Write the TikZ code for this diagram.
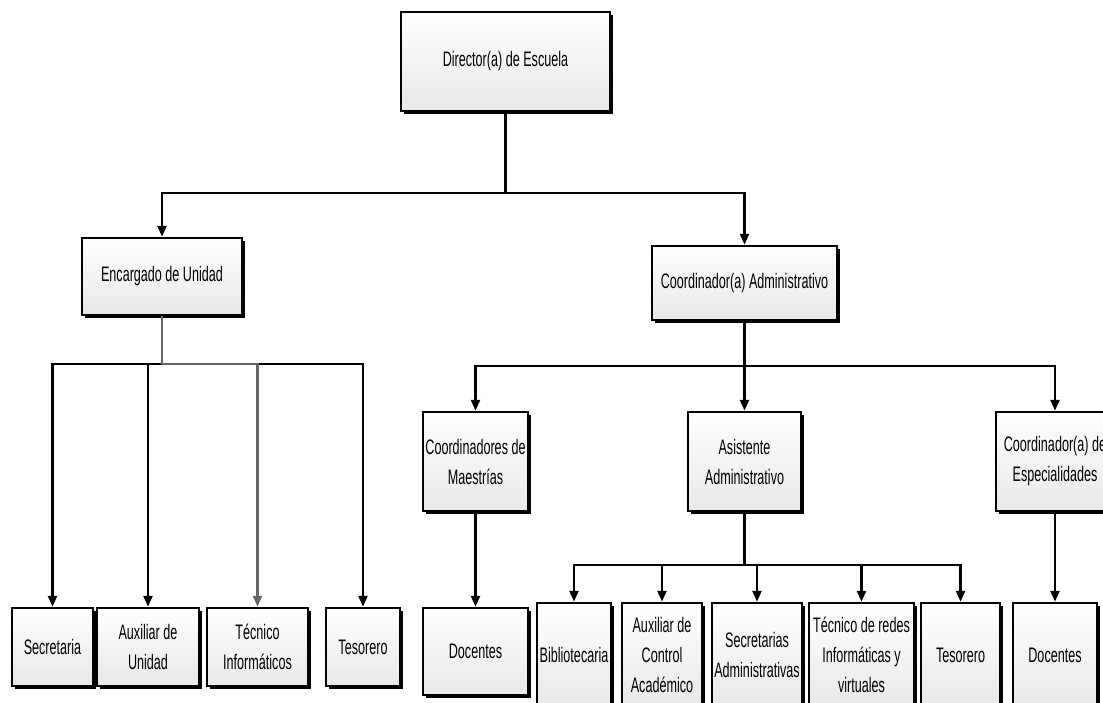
\documentclass[tikz,border=0pt]{standalone}
\usepackage{fontspec}
\setmainfont{Liberation Sans}[FakeStretch=0.6]
\usepackage{tikz}
\usetikzlibrary{arrows.meta,shadows}

\begin{document}
\begin{tikzpicture}[x=1pt,y=-1pt,
    box/.style={draw=black,line width=2.5pt,top color=white,bottom color=black!9,
      align=center,inner sep=1pt,font=\fontsize{21}{30}\selectfont,
      drop shadow={shadow xshift=2.5pt,shadow yshift=-2.5pt,fill=black,opacity=1}},
    link/.style={line width=2.5pt},
    arr/.style={link,-{Triangle[length=11pt,width=9pt]}}]
   \useasboundingbox (0,0) rectangle (1103,702);

   % top levels
   \node[box,minimum width=209pt,minimum height=99pt] (dir) at (505.5,61.5) {Director(a) de Escuela};
   \node[box,minimum width=160pt,minimum height=77pt] (enc) at (162,276.5) {Encargado de Unidad};
   \node[box,minimum width=185pt,minimum height=74pt] (coad) at (744.5,283) {Coordinador(a) Administrativo};

   \node[box,minimum width=105pt,minimum height=99pt] (cmae) at (475.5,461.5) {Coordinadores de\\Maestrías};
   \node[box,minimum width=113pt,minimum height=99pt] (asis) at (744.5,461.5) {Asistente\\Administrativo};
   \node[box,minimum width=118pt,minimum height=99pt] (cesp) at (1055,461.5) {Coordinador(a) de\\Especialidades};

   % bottom row, left
   \node[box,minimum width=81pt,minimum height=78pt] (sec) at (52.5,647) {Secretaria};
   \node[box,minimum width=102pt,minimum height=78pt] (aux) at (148,647) {Auxiliar de\\Unidad};
   \node[box,minimum width=101pt,minimum height=78pt] (tec) at (257.5,647) {Técnico\\Informáticos};
   \node[box,minimum width=74pt,minimum height=78pt] (tes) at (363,647) {Tesorero};

   % bottom row, right
   \node[box,minimum width=105pt,minimum height=87pt] (doca) at (475.5,651.5) {Docentes};
   \node[box,minimum width=74pt,minimum height=104pt] (bib) at (574,655) {Bibliotecaria};
   \node[box,minimum width=80pt,minimum height=104pt] (acad) at (662,655) {Auxiliar de\\Control\\Académico};
   \node[box,minimum width=90pt,minimum height=104pt] (sadm) at (757,655) {Secretarias\\Administrativas};
   \node[box,minimum width=105pt,minimum height=104pt] (tred) at (861.5,655) {Técnico de redes\\Informáticas y\\virtuales};
   \node[box,minimum width=79pt,minimum height=104pt] (tesb) at (960.5,655) {Tesorero};
   \node[box,minimum width=84pt,minimum height=104pt] (docb) at (1055,655) {Docentes};

   \coordinate (dirbus) at (505.5,193);
   \coordinate (encbus) at (162,364);
   \coordinate (coadbus) at (744.5,366);
   \coordinate (asisbus) at (744.5,565);

   \draw[link] (dir) -- (dirbus);
   \draw[arr] (dirbus) -| (enc);
   \draw[arr] (dirbus) -| (coad);

   \draw[arr] (encbus) -| (sec);
   \draw[arr] (encbus) -| (aux);
   \draw[arr] (encbus) -| (tes);
   \draw[link,black!60] (enc) -- (encbus);
   \draw[arr,black!60] (encbus) -| (tec);

   \draw[link] (coad) -- (coadbus);
   \draw[arr] (coadbus) -| (cmae);
   \draw[arr] (coadbus) -- (asis);
   \draw[arr] (coadbus) -| (cesp);

   \draw[arr] (cmae) -- (doca);
   \draw[arr] (cesp) -- (docb);

   \draw[link] (asis) -- (asisbus);
   \foreach \n in {bib,acad,sadm,tred,tesb}
     \draw[arr] (asisbus) -| (\n);
\end{tikzpicture}
\end{document}
